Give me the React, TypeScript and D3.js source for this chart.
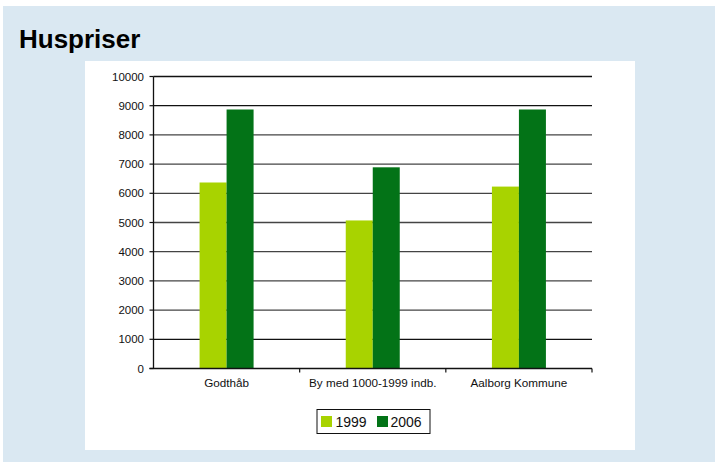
import React from "react";
import * as d3 from "d3";

const categories = ["Godthåb", "By med 1000-1999 indb.", "Aalborg Kommune"];
const seriesNames = ["1999", "2006"];
const values1999 = [6370, 5070, 6230];
const values2006 = [8870, 6890, 8870];
const yTicks = [0, 1000, 2000, 3000, 4000, 5000, 6000, 7000, 8000, 9000, 10000];
const colors = ["#A8D300", "#037317"];

const W = 715;
const H = 462;
const plot = { left: 153.5, right: 592, top: 76.5, bottom: 368.5 };

export default function App() {
  const x = d3.scaleBand<string>().domain(categories).range([plot.left, plot.right]);
  const y = d3.scaleLinear().domain([0, 10000]).range([plot.bottom, plot.top]);
  const barW = 27;
  const series = [values1999, values2006];
  const font = "Liberation Sans, Arial, sans-serif";

  return (
    <svg width={W} height={H} style={{ position: "absolute", left: 0, top: 0 }} fontFamily={font}>
      <rect x={0} y={0} width={W} height={H} fill="#ffffff" />
      <rect x={3} y={6} width={W - 3} height={H - 6} fill="#DAE8F2" />
      <rect x={85} y={61} width={550} height={389} fill="#ffffff" />
      <text x={19} y={48} fontSize={26} fontWeight="bold" fill="#000">Huspriser</text>

      {yTicks.map((t) => (
        <g key={t}>
          {t > 0 && (
            <line x1={plot.left} x2={plot.right} y1={y(t)} y2={y(t)} stroke={t >= 9000 || t === 1000 ? "#111" : "#444"} strokeWidth={1.3} />
          )}
          <line x1={plot.left - 4} x2={plot.left} y1={y(t)} y2={y(t)} stroke="#111" strokeWidth={1.2} />
          <text x={144} y={y(t) + 4} fontSize={11.5} textAnchor="end" fill="#111">{t}</text>
        </g>
      ))}

      {categories.map((c, i) =>
        series.map((s, j) => {
          const cx = (x(c) ?? 0) + x.bandwidth() / 2;
          return (
            <rect key={c + j} x={cx - barW + j * barW} y={y(s[i])} width={barW} height={plot.bottom - y(s[i])} fill={colors[j]} />
          );
        })
      )}

      <line x1={plot.left} x2={plot.left} y1={plot.top} y2={plot.bottom} stroke="#111" strokeWidth={1.3} />
      <line x1={plot.left - 4} x2={plot.right} y1={plot.bottom} y2={plot.bottom} stroke="#111" strokeWidth={1.3} />
      {categories.map((c) => {
        const bx = (x(c) ?? 0) + x.bandwidth();
        return <line key={"t" + c} x1={bx} x2={bx} y1={plot.bottom} y2={plot.bottom + 4} stroke="#111" strokeWidth={1.2} />;
      })}
      {categories.map((c) => (
        <text key={"l" + c} x={(x(c) ?? 0) + x.bandwidth() / 2} y={387} fontSize={11.7} textAnchor="middle" fill="#111">{c}</text>
      ))}

      <rect x={317} y={409.5} width={113} height={24} fill="#fff" stroke="#111" strokeWidth={1} />
      {seriesNames.map((n, i) => (
        <g key={n}>
          <rect x={321 + i * 56} y={416} width={11} height={11} fill={colors[i]} />
          <text x={335.5 + i * 55} y={427} fontSize={14} fill="#111">{n}</text>
        </g>
      ))}
    </svg>
  );
}
